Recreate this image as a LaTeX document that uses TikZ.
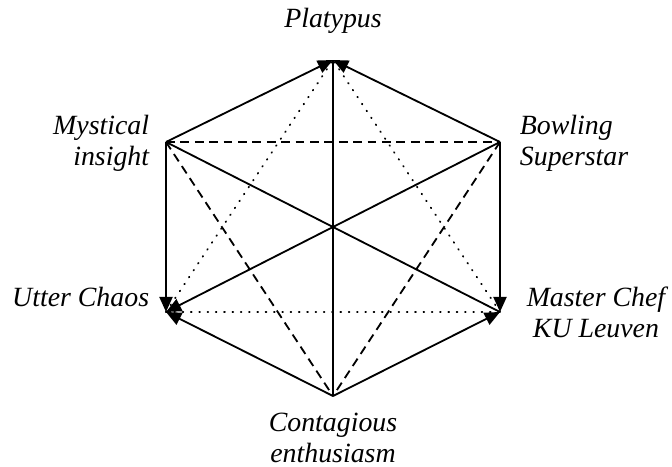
\documentclass[tikz,border=0pt]{standalone}
\usepackage{fontspec}
\setmainfont{Liberation Serif}
\usetikzlibrary{arrows.meta}
\tikzset{
  every picture/.style={line width=1.3pt},
  vlabel/.style={font=\fontsize{19.8}{22}\selectfont\itshape, inner sep=0pt},
  beats/.style={-{Triangle[length=3.8mm, width=3.3mm]}},
  tie/.style={dash pattern=on 2.2mm off 1.4mm},
  faint/.style={dash pattern=on 0.5pt off 1.9mm, line cap=round},
}

\begin{document}
\begin{tikzpicture}[x=0.025cm, y=-0.025cm]
  \useasboundingbox (0,0) rectangle (672,467);
  % corners of the hexagon
  \coordinate (P) at (333,60);
  \coordinate (M) at (166,142);
  \coordinate (B) at (500,142);
  \coordinate (U) at (166,312);
  \coordinate (K) at (500,312);
  \coordinate (C) at (333,396);
  % labels
  \node[vlabel] (lP) at (333,21) {Platypus};
  \node[vlabel, anchor=east, align=right] (lM) at (150,143) {Mystical\\insight};
  \node[vlabel, anchor=west, align=left] (lB) at (519,143) {Bowling\\Superstar};
  \node[vlabel, anchor=east] (lU) at (150,297) {Utter Chaos};
  \node[vlabel, align=center] (lK) at (596,312) {Master Chef\\KU Leuven};
  \node[vlabel, align=center] (lC) at (333,438) {Contagious\\enthusiasm};
  % edges
  \foreach \a/\b in {M/P, B/P, M/U, B/U, C/U, B/K, C/K} \draw[beats] (\a) -- (\b);
  \foreach \a/\b in {C/P, M/K} \draw (\a) -- (\b);
  \foreach \a/\b in {M/B, M/C, B/C} \draw[tie] (\a) -- (\b);
  \foreach \a/\b in {U/P, K/P, U/K} \draw[faint] (\a) -- (\b);
\end{tikzpicture}
\end{document}
